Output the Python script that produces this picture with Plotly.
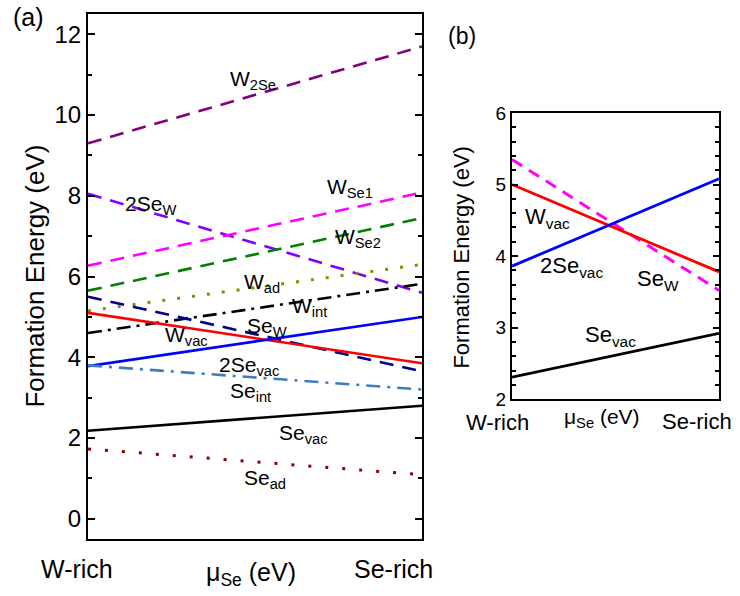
import plotly.graph_objects as go

# ---------------- data ----------------
mu_ends = [0, 1]  # W-rich -> Se-rich

# panel (a) formation energies at W-rich / Se-rich ends (eV)
a_W2Se = [9.3, 11.7]
a_2SeW = [8.05, 5.6]
a_WSe1 = [6.27, 8.08]
a_WSe2 = [5.65, 7.45]
a_Wad = [5.15, 6.3]
a_Wint = [4.6, 5.82]
a_SeW = [5.5, 3.65]
a_Wvac = [5.1, 3.85]
a_2Sevac = [3.78, 5.0]
a_Seint = [3.8, 3.2]
a_Sevac = [2.18, 2.8]
a_Sead = [1.73, 1.09]

# panel (b)
b_SeW = [5.35, 3.52]
b_Wvac = [5.0, 3.78]
b_2Sevac = [3.86, 5.08]
b_Sevac = [2.31, 2.92]

y_ticks_a = [0, 2, 4, 6, 8, 10, 12]
y_ticks_b = [2, 3, 4, 5, 6]

FONT = "Arial, 'Liberation Sans', sans-serif"
W, H = 740, 596
VS = 1 / 0.967  # vertical stretch compensation


def px(x):
    return x / W


def py(y):
    yy = H / 2 + (y - H / 2) * VS
    return 1 - yy / H


fig = go.Figure()

series_a = [
    (a_W2Se, "#800080", "14px,9px", 2.6),
    (a_2SeW, "#7f00ff", "14px,9px", 2.6),
    (a_WSe1, "#ff00ff", "14px,9px", 2.6),
    (a_WSe2, "#008000", "14px,9px", 2.6),
    (a_Wad, "#8c8c00", "3px,12px", 3),
    (a_Wint, "#000000", "14px,6px,3px,6px", 2.6),
    (a_SeW, "#00008b", "14px,9px", 2.6),
    (a_Wvac, "#ff0000", "solid", 2.6),
    (a_2Sevac, "#0000ff", "solid", 2.6),
    (a_Seint, "#3f7cbf", "14px,7px,3px,7px", 2.6),
    (a_Sevac, "#000000", "solid", 2.6),
    (a_Sead, "#8b0000", "3px,14px", 3),
]
for vals, col, dash, w in series_a:
    fig.add_trace(go.Scatter(x=mu_ends, y=vals, mode="lines",
                             line=dict(color=col, dash=dash, width=w),
                             xaxis="x", yaxis="y", showlegend=False))

series_b = [
    (b_SeW, "#ff00ff", "12px,8px", 3),
    (b_Wvac, "#ff0000", "solid", 2.8),
    (b_2Sevac, "#0000ff", "solid", 2.8),
    (b_Sevac, "#000000", "solid", 2.8),
]
for vals, col, dash, w in series_b:
    fig.add_trace(go.Scatter(x=mu_ends, y=vals, mode="lines",
                             line=dict(color=col, dash=dash, width=w),
                             xaxis="x2", yaxis="y2", showlegend=False))

axis_common = dict(showline=True, linewidth=2, linecolor="black", mirror="ticks",
                   showgrid=False, zeroline=False)

fig.update_layout(
    width=W, height=H,
    margin=dict(l=0, r=0, t=0, b=0),
    paper_bgcolor="white", plot_bgcolor="white",
    font=dict(family=FONT, color="black"),
    xaxis=dict(domain=[px(88), px(422)], range=[0, 1], showticklabels=False,
               ticks="", anchor="y", **axis_common),
    yaxis=dict(domain=[py(540), py(14)], range=[-0.5, 12.5], tickvals=y_ticks_a,
               ticks="inside", ticklen=7, tickwidth=2, tickcolor="black",
               ticklabelstandoff=0,
               minor=dict(dtick=1, ticks="inside", ticklen=4, tickwidth=2, tickcolor="black"),
               tickfont=dict(size=24, family=FONT), anchor="x", **axis_common),
    xaxis2=dict(domain=[px(512), px(719)], range=[0, 1], showticklabels=False,
                ticks="", anchor="y2", **axis_common),
    yaxis2=dict(domain=[py(400), py(113)], range=[2, 6], tickvals=y_ticks_b,
                ticks="inside", ticklen=6, tickwidth=2, tickcolor="black",
                ticklabelstandoff=0,
                minor=dict(dtick=0.2, ticks="inside", ticklen=4, tickwidth=2, tickcolor="black"),
                tickfont=dict(size=19, family=FONT), anchor="x2", **axis_common),
)

ann = []


def label(text, x, y, size, anchor="left", angle=0):
    ann.append(dict(text=text, x=px(x), y=py(y), xref="paper", yref="paper",
                    xanchor=anchor, yanchor="middle", showarrow=False,
                    textangle=angle, font=dict(size=size, family=FONT, color="black")))


# panel labels
label("(a)", 28, 17, 25, "center")
label("(b)", 462, 36, 23, "center")

# y titles
label("Formation Energy (eV)", 35, 277, 26, "center", -90)
label("Formation Energy (eV)", 462, 257, 22, "center", -90)

# x labels (a)
label("W-rich", 77, 570, 25, "center")
label("μ<sub>Se</sub> (eV)", 251, 575, 25, "center")
label("Se-rich", 393, 570, 25, "center")
# x labels (b)
label("W-rich", 497, 423, 22, "center")
label("μ<sub>Se</sub> (eV)", 602, 419, 21, "center")
label("Se-rich", 697, 422, 22, "center")

# curve labels (a)
label("W<sub>2Se</sub>", 228, 80, 21)
label("2Se<sub>W</sub>", 123, 205, 21)
label("W<sub>Se1</sub>", 325, 188, 21)
label("W<sub>Se2</sub>", 333, 238, 21)
label("W<sub>ad</sub>", 242, 283, 21)
label("W<sub>int</sub>", 290, 308, 21)
label("Se<sub>W</sub>", 245, 328, 21)
label("W<sub>vac</sub>", 163, 337, 21)
label("2Se<sub>vac</sub>", 217, 367, 21)
label("Se<sub>int</sub>", 228, 393, 21)
label("Se<sub>vac</sub>", 277, 435, 21)
label("Se<sub>ad</sub>", 242, 480, 21)

# curve labels (b)
label("W<sub>vac</sub>", 523, 218, 22)
label("2Se<sub>vac</sub>", 538, 267, 22)
label("Se<sub>W</sub>", 635, 280, 22)
label("Se<sub>vac</sub>", 583, 337, 22)

fig.update_layout(annotations=ann)
fig.write_html("out.html", config={"displayModeBar": False},
               post_script="document.body.style.margin='0';document.body.style.overflow='hidden';")
